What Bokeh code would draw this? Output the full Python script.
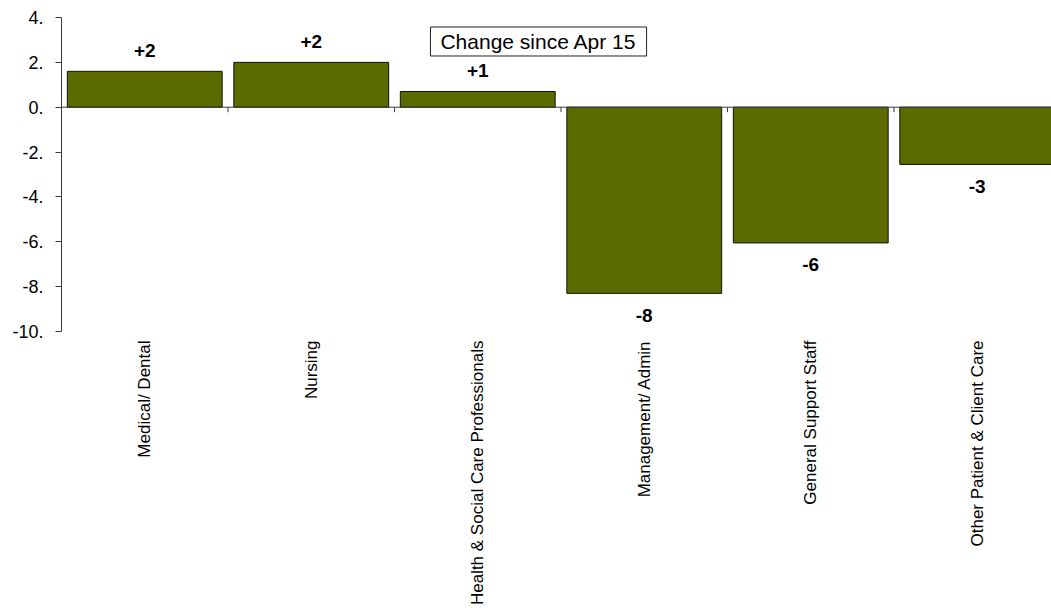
import math
from bokeh.plotting import figure
from bokeh.models import ColumnDataSource, Range1d, FixedTicker, LinearAxis, Label, Span
from bokeh.core.properties import value
from bokeh.embed import file_html
from bokeh.resources import INLINE

categories = ["Medical/ Dental", "Nursing", "Health & Social Care Professionals",
              "Management/ Admin", "General Support Staff", "Other Patient & Client Care"]
changes = [1.6, 2.0, 0.7, -8.3, -6.05, -2.55]
bar_labels = ["+2", "+2", "+1", "-8", "-6", "-3"]
y_ticks = [-10, -8, -6, -4, -2, 0, 2, 4]
legend_text = "Change since Apr 15"

FONT = "Liberation Sans"
BAR_COLOR = "#5c6b00"
AXIS_COLOR = "#3a3a3a"

xs = [i + 0.5 for i in range(len(categories))]
src = ColumnDataSource(dict(
    x=xs, top=changes, label=bar_labels,
    yoff=[-21 if v >= 0 else 22 for v in changes],
))

p = figure(width=1051, height=608, output_backend="svg", toolbar_location=None,
           x_range=Range1d(0, 5.946), y_range=Range1d(-10, 4),
           min_border_left=61, min_border_right=0, min_border_top=17, min_border_bottom=277,
           x_axis_type=None)
p.outline_line_color = None
p.grid.visible = False
p.background_fill_color = "white"
p.border_fill_color = "white"

p.vbar(x="x", top="top", bottom=0, width=0.93, source=src,
       fill_color=BAR_COLOR, line_color="#111111", line_width=1)

p.text(x="x", y="top", text="label", y_offset="yoff", source=src,
       text_font=value(FONT), text_font_size="19px", text_font_style="bold",
       text_align="center", text_baseline="middle", text_color="black")

# y axis
yax = p.yaxis[0]
yax.ticker = FixedTicker(ticks=y_ticks)
yax.major_label_overrides = {t: f"{t}." for t in y_ticks}
yax.minor_tick_line_color = None
yax.major_tick_out = 6
yax.major_tick_in = 0
yax.major_label_standoff = 12
yax.axis_line_color = AXIS_COLOR
yax.major_tick_line_color = AXIS_COLOR
yax.major_label_text_font = FONT
yax.major_label_text_font_size = "18px"
yax.major_label_text_color = "black"

# category labels axis (at bottom of frame)
cax = LinearAxis(ticker=FixedTicker(ticks=xs),
                 major_label_overrides={x: c for x, c in zip(xs, categories)},
                 major_label_orientation=math.pi / 2,
                 axis_line_color=None, major_tick_line_color=None, minor_tick_line_color=None,
                 major_tick_out=0, major_tick_in=0, major_label_standoff=9,
                 major_label_text_font=FONT, major_label_text_font_size="17px",
                 major_label_text_color="black")
p.add_layout(cax, "below")

# zero line and category boundary tick marks
p.add_layout(Span(location=0, dimension="width", line_color=AXIS_COLOR, line_width=1))
bounds = [float(i) for i in range(1, len(categories))]
tick_len = 5 * 14 / 314  # ~5 px in data units
p.segment(x0=bounds, y0=[0] * len(bounds), x1=bounds, y1=[-tick_len] * len(bounds),
          line_color=AXIS_COLOR, line_width=1)

lab = Label(x=2.865, y=2.93, text=legend_text, text_font=FONT, text_font_size="21px",
            text_align="center", text_baseline="middle", text_color="black",
            border_line_color="#222222", border_line_width=1,
            background_fill_color="white", padding=(10, 3))
p.add_layout(lab)

open("out.html", "w").write(file_html(p, INLINE))
